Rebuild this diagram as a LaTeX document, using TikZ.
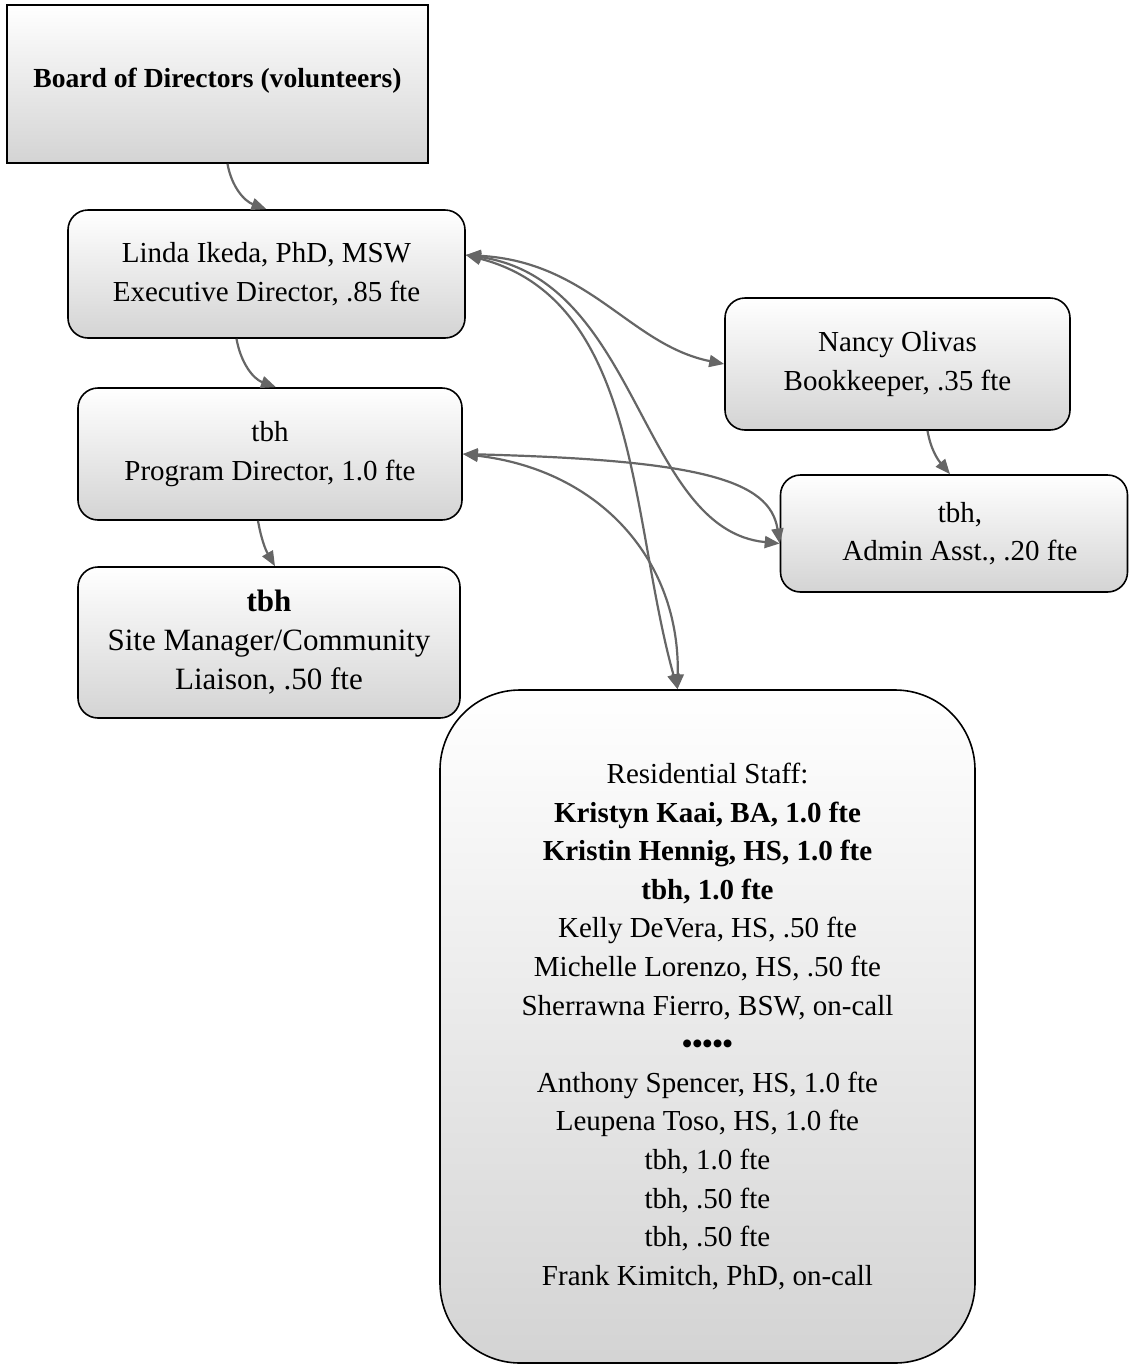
\documentclass[tikz,border=0pt]{standalone}
\usepackage{fontspec}
\setmainfont{Liberation Serif}
\usetikzlibrary{arrows.meta}
\begin{document}
\begin{tikzpicture}[x=0.5pt,y=-0.5pt,
  box/.style={draw, line width=0.8pt, rounded corners=10pt, top color=white, bottom color=gray!34,
    align=center, inner sep=0pt, font=\fontsize{14.5}{19.3}\selectfont},
  link/.style={draw=black!60, line width=1.1pt, -{Triangle[length=7.5pt,width=6pt]}},
  twolink/.style={link, {Triangle[length=7.5pt,width=6pt]}-{Triangle[length=7.5pt,width=6pt]}}]
\useasboundingbox (0,0) rectangle (1130,1366);
\node[box, rounded corners=0pt, minimum width=210.5pt, minimum height=79pt, font=\fontsize{13.8}{19.3}\selectfont] (board) at (217.5,84) {\raisebox{6pt}{\textbf{Board of Directors (volunteers)}}};
\node[box, minimum width=198.5pt, minimum height=64pt] (linda) at (266.5,274) {Linda Ikeda, PhD, MSW\\Executive Director, .85 fte};
\node[box, minimum width=192pt, minimum height=66pt] (pd) at (270,454) {tbh\\Program Director, 1.0 fte};
\node[box, minimum width=191pt, minimum height=75.5pt, font=\fontsize{15.5}{19.5}\selectfont] (site) at (269,642.5) {\textbf{tbh}\\Site Manager/Community\\Liaison, .50 fte};
\node[box, minimum width=172.5pt, minimum height=66pt] (nancy) at (897.5,364) {Nancy Olivas\\Bookkeeper, .35 fte};
\node[box, minimum width=173.5pt, minimum height=58.5pt] (admin) at (954,533.5) {\hspace*{6pt}tbh,\\\hspace*{6pt}Admin Asst., .20 fte};
\node[box, rounded corners=40pt, minimum width=267.5pt, minimum height=336.5pt] (resid) at (707.5,1026.5) {Residential Staff:\\
  \textbf{Kristyn Kaai, BA, 1.0 fte}\\
  \textbf{Kristin Hennig, HS, 1.0 fte}\\
  \textbf{tbh, 1.0 fte}\\
  Kelly DeVera, HS, .50 fte\\
  Michelle Lorenzo, HS, .50 fte\\
  Sherrawna Fierro, BSW, on-call\\
  \textbf{•••••}\\
  Anthony Spencer, HS, 1.0 fte\\
  Leupena Toso, HS, 1.0 fte\\
  tbh, 1.0 fte\\
  tbh, .50 fte\\
  tbh, .50 fte\\
  Frank Kimitch, PhD, on-call};
% reporting lines
\draw[link] ([xshift=5pt]board.south) to[out=-80,in=160] (linda.north);
\draw[link] ([xshift=-15pt]linda.south) to[out=-80,in=160] ([xshift=3pt]pd.north);
\draw[link] ([xshift=-6pt]pd.south) to[out=-80,in=120] ([xshift=3pt]site.north);
\draw[link] ([xshift=15pt]nancy.south) to[out=-80,in=130] ([xshift=-2pt]admin.north);
\draw[twolink] ([yshift=9.5pt]linda.east) .. controls (590,262) and (630,345) .. (nancy.west);
\draw[twolink] ([yshift=9.5pt]linda.east) .. controls (640,280) and (640,530) .. ([yshift=-5pt]admin.west);
\draw[twolink] ([yshift=9.5pt]linda.east) .. controls (640,300) and (630,520) .. ([xshift=-15pt]resid.north);
\draw[twolink] (pd.east) .. controls (700,460) and (770,480) .. ([yshift=-5pt]admin.west);
\draw[twolink] (pd.east) .. controls (600,470) and (680,560) .. ([xshift=-15pt]resid.north);
\end{tikzpicture}
\end{document}
